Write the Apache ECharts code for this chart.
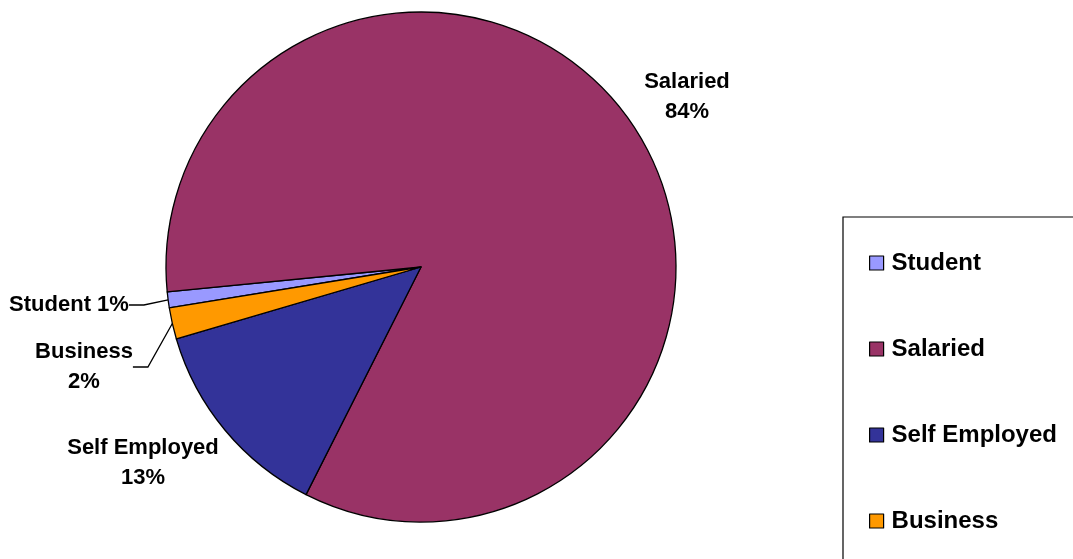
<!DOCTYPE html>
<html>
<head>
<meta charset="utf-8">
<script src="https://cdn.jsdelivr.net/npm/echarts@6/dist/echarts.min.js"></script>
<style>html,body{margin:0;padding:0;background:#fff;}#c{width:1073px;height:559px;}</style>
</head>
<body>
<div id="c"></div>
<script>
// Data
var categories = ['Student', 'Salaried', 'Self Employed', 'Business'];
var values = [1, 84, 13, 2];
var colors = ['#9999FF', '#993366', '#333399', '#FF9900'];

// Label anchor positions (layout only)
var labelPos = [
  {x: 69, y: 305},
  {x: 687, y: 97},
  {x: 143, y: 463},
  {x: 84, y: 367}
];

var chart = echarts.init(document.getElementById('c'), null, {renderer: 'canvas'});
var font = '"Liberation Sans", Arial, sans-serif';

var data = categories.map(function (name, i) {
  var showLine = (i === 0 || i === 3);
  return {
    name: name,
    value: values[i],
    itemStyle: {color: colors[i]},
    label: {formatter: i === 0 ? '{b} {d}%' : '{b}\n{d}%'},
    labelLine: {show: showLine}
  };
});

chart.setOption({
  animation: false,
  backgroundColor: '#ffffff',
  legend: {
    orient: 'vertical',
    left: 843,
    top: 217,
    height: 460,
    padding: [34, 30, 60, 26],
    itemGap: 62,
    itemWidth: 14,
    itemHeight: 14,
    icon: 'rect',
    borderColor: '#000',
    borderWidth: 1.2,
    itemStyle: {borderColor: '#000', borderWidth: 1.2},
    textStyle: {fontFamily: font, fontWeight: 'bold', fontSize: 24, lineHeight: 24, color: '#000', padding: [0, 0, 0, 3]},
    data: categories
  },
  series: [{
    type: 'pie',
    center: [421, 267],
    radius: [0, 255],
    startAngle: 189.2,
    clockwise: true,
    avoidLabelOverlap: false,
    percentPrecision: 0,
    itemStyle: {borderColor: '#000', borderWidth: 1.3},
    label: {
      show: true,
      position: 'outside',
      fontFamily: font,
      fontWeight: 'bold',
      fontSize: 22,
      lineHeight: 30,
      color: '#000',
      align: 'center'
    },
    labelLine: {lineStyle: {color: '#000', width: 1.3}, length: 10, length2: 15},
    labelLayout: function (params) {
      var p = labelPos[params.dataIndex];
      return {x: p.x, y: p.y, align: 'center', verticalAlign: 'middle'};
    },
    emphasis: {disabled: true},
    data: data
  }]
});
</script>
</body>
</html>
